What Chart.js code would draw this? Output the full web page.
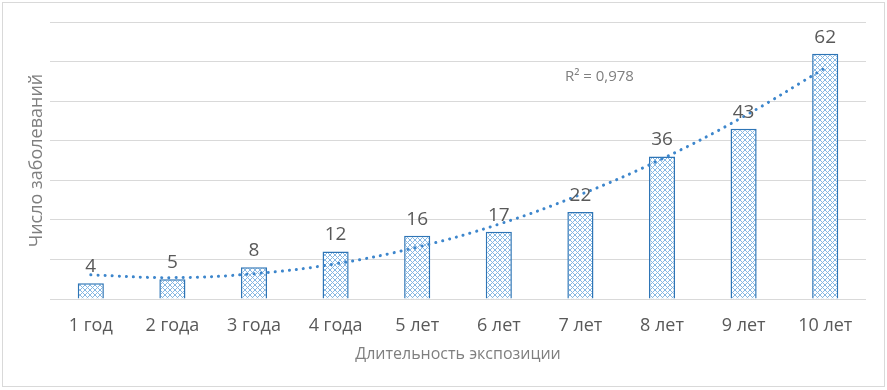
<!DOCTYPE html>
<html>
<head>
<meta charset="utf-8">
<script src="https://cdn.jsdelivr.net/npm/chart.js@4.4.1/dist/chart.umd.min.js"></script>
<style>
  html, body { margin: 0; padding: 0; background: #fff; }
  #wrap { width: 887px; height: 390px; position: relative; }
</style>
</head>
<body>
<div id="wrap"><canvas id="chart" width="887" height="390"></canvas></div>
<script>
const categories = ['1 год', '2 года', '3 года', '4 года', '5 лет', '6 лет', '7 лет', '8 лет', '9 лет', '10 лет'];
const cases = [4, 5, 8, 12, 16, 17, 22, 36, 43, 62];
// polynomial trendline, values
const trend = [6.1, 5.4, 6.4, 8.9, 13.1, 18.9, 26.4, 35.4, 46.1, 58.4];
const rSquared = 'R² = 0,978';

const FONT = "'Open Sans', 'DejaVu Sans', sans-serif";

const makeHatch = () => {
  const tile = document.createElement('canvas');
  tile.width = 5;
  tile.height = 5;
  const c = tile.getContext('2d');
  c.fillStyle = '#ffffff';
  c.fillRect(0, 0, 5, 5);
  c.strokeStyle = '#86b7e3';
  c.lineWidth = 1;
  c.beginPath();
  c.moveTo(0, 0); c.lineTo(5, 5);
  c.moveTo(0, 5); c.lineTo(5, 0);
  c.stroke();
  return c.createPattern(tile, 'repeat');
};

const ctx = document.getElementById('chart').getContext('2d');

const frame = {
  id: 'frame',
  beforeDraw(chart) {
    const c = chart.ctx;
    c.save();
    c.fillStyle = '#ffffff';
    c.fillRect(0, 0, chart.width, chart.height);
    c.strokeStyle = '#d9d9d9';
    c.lineWidth = 1;
    c.strokeRect(2.5, 2.5, 882, 384);
    c.restore();
  }
};

const valueLabels = {
  id: 'valueLabels',
  afterDatasetsDraw(chart) {
    const c = chart.ctx;
    const meta = chart.getDatasetMeta(0);
    c.save();
    c.font = `19px ${FONT}`;
    c.fillStyle = '#595959';
    c.textAlign = 'center';
    c.textBaseline = 'bottom';
    meta.data.forEach((bar, i) => {
      c.fillText(String(cases[i]), bar.x, bar.y - 7);
    });

    const area = chart.chartArea;
    c.font = `15px ${FONT}`;
    c.fillStyle = '#7f7f7f';
    c.textAlign = 'left';
    c.textBaseline = 'middle';
    c.fillText(rSquared, area.left + (area.right - area.left) * 0.631, area.top + 55);
    c.restore();
  }
};

const plot = new Chart(ctx, {
  data: {
    labels: categories,
    datasets: [
      {
        type: 'bar',
        data: cases,
        backgroundColor: makeHatch(),
        borderColor: '#2e75b6',
        borderWidth: 1.5,
        barPercentage: 0.64,
        categoryPercentage: 0.5,
        order: 2
      },
      {
        type: 'line',
        data: trend,
        borderColor: '#3d86cc',
        borderWidth: 3,
        borderDash: [0.1, 7],
        borderCapStyle: 'round',
        pointRadius: 0,
        tension: 0.4,
        fill: false,
        order: 1
      }
    ]
  },
  options: {
    responsive: false,
    animation: false,
    layout: { padding: { left: 0, right: 21, top: 22, bottom: 0 } },
    plugins: {
      legend: { display: false },
      tooltip: { enabled: false }
    },
    scales: {
      x: {
        grid: { display: false, drawTicks: false },
        border: { display: false },
        ticks: {
          color: '#595959',
          font: { family: FONT, size: 18 },
          padding: 16,
          maxRotation: 0
        },
        title: {
          display: true,
          text: 'Длительность экспозиции',
          color: '#7f7f7f',
          font: { family: FONT, size: 16 },
          padding: { top: 26, bottom: 26 }
        },
        afterFit(scale) {
          scale.height = 91;
        }
      },
      y: {
        min: 0,
        max: 70,
        ticks: { display: false, stepSize: 10 },
        grid: { color: '#d9d9d9', drawTicks: false },
        border: { display: false },
        title: {
          display: true,
          text: 'Число заболеваний',
          color: '#7f7f7f',
          font: { family: FONT, size: 18 },
          padding: { top: 26, bottom: 26 }
        },
        afterFit(scale) {
          scale.width = 50;
        }
      }
    }
  },
  plugins: [frame, valueLabels]
});
</script>
</body>
</html>
